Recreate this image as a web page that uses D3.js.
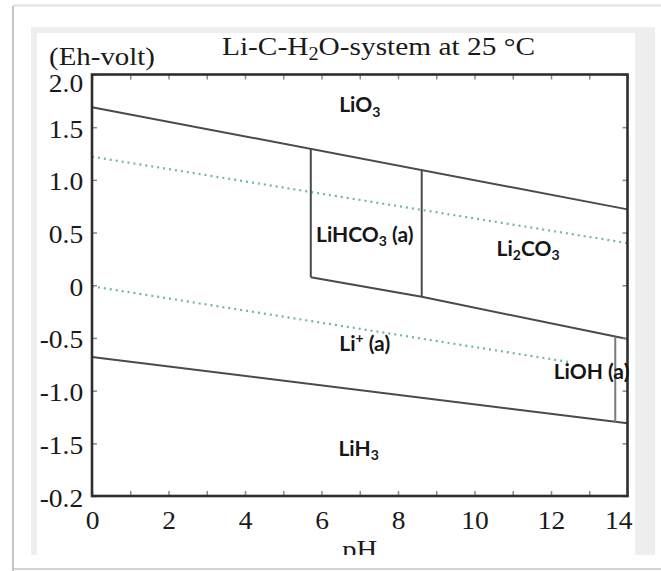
<!DOCTYPE html>
<html>
<head>
<meta charset="utf-8">
<script src="https://cdn.jsdelivr.net/npm/d3@7"></script>
<style>
  html, body { margin: 0; padding: 0; background: #fff; }
  svg { display: block; }
</style>
</head>
<body>
<svg id="chart" width="661" height="571"></svg>
<script>
// ---- Eh–pH data (pH, Eh in volts) ----
const phTicks = [0, 1, 2, 3, 4, 5, 6, 7, 8, 9, 10, 11, 12, 13, 14];
const phLabelTicks = [0, 2, 4, 6, 8, 10, 12, 14];
const ehTicks = [2, 1.5, 1, 0.5, 0, -0.5, -1, -1.5, -2];
const ehTickLabels = ["2.0", "1.5", "1.0", "0.5", "0", "-0.5", "-1.0", "-1.5", "-0.2"];

// stability-field boundaries
const oxideBoundary = [[0, 1.69], [14, 0.72]];
const carbonateFloor = [[5.72, 0.076], [8.62, -0.11], [14, -0.51]];
const hydrideBoundary = [[0, -0.68], [14, -1.31]];
const bicarbonateLeft = [[5.72, 1.294], [5.72, 0.076]];
const bicarbonateRight = [[8.62, 1.09], [8.62, -0.11]];
const hydroxideWall = [[13.68, -0.49], [13.68, -1.30]];

// water stability limits (dotted)
const oxygenLine = [[0, 1.22], [14, 0.40]];
const hydrogenLine = [[0, -0.01], [12.5, -0.73]];

// phase names as runs of [text, kind]
const phaseNames = [
  [["LiO"], ["3", "sub"]],
  [["LiHCO"], ["3", "sub"], [" (a)"]],
  [["Li"], ["2", "sub"], ["CO"], ["3", "sub"]],
  [["Li"], ["+", "sup"], [" (a)"]],
  [["LiOH (a)"]],
  [["LiH"], ["3", "sub"]]
];
const phaseAnchors = [[7.0, 1.64], [7.13, 0.41], [11.40, 0.275], [7.13, -0.62], [13.06, -0.885], [6.97, -1.62]];

const titleRuns = [["Li-C-H"], ["2", "sub"], ["O-system at 25 °C"]];
const yTitle = "(Eh-volt)";
const xTitle = "pH";

// ---- layout ----
const svg = d3.select("#chart");
const x = d3.scaleLinear().domain([0, 14]).range([92, 627.5]);
const y = d3.scaleLinear().domain([-2, 2]).range([496, 74.5]);
const serif = "'Liberation Serif', 'Times New Roman', serif";
const stretch = 1.1;

// outer card with a soft left shadow
const defs = svg.append("defs");
defs.append("filter").attr("id", "soft")
  .append("feGaussianBlur").attr("stdDeviation", 1.4);
defs.append("clipPath").attr("id", "panelClip")
  .append("rect").attr("x", 37).attr("y", 33).attr("width", 620).attr("height", 522);

svg.append("rect").attr("width", 661).attr("height", 571).attr("fill", "#fff");
svg.append("line").attr("x1", 11).attr("x2", 11).attr("y1", 7).attr("y2", 571)
  .attr("stroke", "#c8c8c8").attr("stroke-width", 3).attr("filter", "url(#soft)");
svg.append("line").attr("x1", 13).attr("x2", 661).attr("y1", 5.5).attr("y2", 5.5)
  .attr("stroke", "#e2e2e2").attr("stroke-width", 2);
svg.append("line").attr("x1", 13).attr("x2", 661).attr("y1", 569).attr("y2", 569)
  .attr("stroke", "#d4d4d4").attr("stroke-width", 2);
svg.append("line").attr("x1", 13).attr("x2", 13).attr("y1", 6).attr("y2", 571)
  .attr("stroke", "#b4b4b4").attr("stroke-width", 1.5);

// grey panel framing the figure
svg.append("rect").attr("x", 31).attr("y", 27).attr("width", 624).attr("height", 528).attr("fill", "#eeeeee");
svg.append("rect").attr("x", 37).attr("y", 33).attr("width", 598).attr("height", 522).attr("fill", "#fff");

const panel = svg.append("g").attr("clip-path", "url(#panelClip)");

// ---- lines ----
const line = d3.line().x(d => x(d[0])).y(d => y(d[1]));

panel.selectAll("path.water")
  .data([oxygenLine, hydrogenLine])
  .join("path")
  .attr("class", "water")
  .attr("d", line)
  .attr("fill", "none")
  .attr("stroke", "#6fb4b2")
  .attr("stroke-width", 2.2)
  .attr("stroke-dasharray", "2,4");

panel.selectAll("path.boundary")
  .data([oxideBoundary, carbonateFloor, hydrideBoundary, bicarbonateLeft, bicarbonateRight])
  .join("path")
  .attr("class", "boundary")
  .attr("d", line)
  .attr("fill", "none")
  .attr("stroke", "#4a4a4a")
  .attr("stroke-width", 2);

panel.append("path").datum(hydroxideWall)
  .attr("d", line).attr("fill", "none")
  .attr("stroke", "#7a7a7a").attr("stroke-width", 2);

// ---- axes (ticks point inward) ----
function styleAxis(g) {
  g.select(".domain").remove();
  g.selectAll(".tick line").attr("stroke", "#8a8a8a").attr("stroke-width", 1.5);
  g.selectAll(".tick text")
    .attr("fill", "#1a1a1a")
    .attr("font-family", serif)
    .attr("font-size", 25);
}

panel.append("g").attr("transform", `translate(0,${y(-2)})`)
  .call(d3.axisBottom(x).tickValues(phTicks).tickSize(-5).tickPadding(15)
    .tickFormat(d => phLabelTicks.includes(d) ? String(d) : ""))
  .call(styleAxis)
  .call(g => g.selectAll(".tick text")
    .attr("text-anchor", d => d === 14 ? "end" : "middle")
    .attr("x", d => d === 14 ? 4 : 0)
    .attr("transform", `scale(${stretch},1)`));

panel.append("g").attr("transform", `translate(0,${y(2)})`)
  .call(d3.axisTop(x).tickValues(phTicks).tickSize(-5).tickFormat(""))
  .call(styleAxis);

panel.append("g").attr("transform", `translate(${x(0)},0)`)
  .call(d3.axisLeft(y).tickValues(ehTicks).tickSize(-5).tickPadding(8)
    .tickFormat((d, i) => ehTickLabels[i]))
  .call(styleAxis)
  .call(g => g.selectAll(".tick text")
    .attr("transform", (d, i) => `translate(0,${i === 0 ? 9 : 2}) scale(${stretch},1)`));

panel.append("g").attr("transform", `translate(${x(14)},0)`)
  .call(d3.axisRight(y).tickValues(ehTicks).tickSize(-5).tickFormat(""))
  .call(styleAxis);

// plot frame
panel.append("rect")
  .attr("x", x(0)).attr("y", y(2))
  .attr("width", x(14) - x(0)).attr("height", y(-2) - y(2))
  .attr("fill", "none").attr("stroke", "#2e2e2e").attr("stroke-width", 2.6);

// ---- text ----
// each run gets its own tspan; dy carries the baseline back and forth
function addRuns(textSel, runs, size) {
  const small = Math.round(size * 0.68);
  const offsets = { sub: size * 0.2, sup: -size * 0.38 };
  let current = 0;
  runs.forEach(([s, kind]) => {
    const target = offsets[kind] || 0;
    const t = textSel.append("tspan").text(s);
    if (target !== current) t.attr("dy", target - current);
    if (kind) t.attr("font-size", small);
    current = target;
  });
}

// phase field names
panel.selectAll("text.phase")
  .data(phaseNames)
  .join("text")
  .attr("class", "phase")
  .attr("x", (d, i) => x(phaseAnchors[i][0]))
  .attr("y", (d, i) => y(phaseAnchors[i][1]))
  .attr("text-anchor", "middle")
  .attr("font-family", "Lato, 'Open Sans', sans-serif")
  .attr("font-weight", 700)
  .attr("font-size", 21)
  .attr("fill", "#161616")
  .each(function (d) { addRuns(d3.select(this), d, 21); });

// chart title
const title = panel.append("text")
  .attr("x", 222).attr("y", 55)
  .attr("font-family", serif).attr("font-size", 26).attr("fill", "#1a1a1a")
  .attr("textLength", 313).attr("lengthAdjust", "spacingAndGlyphs");
addRuns(title, titleRuns, 26);

// axis titles
panel.append("text")
  .attr("x", 49).attr("y", 65)
  .attr("font-family", serif).attr("font-size", 26).attr("fill", "#1a1a1a")
  .attr("textLength", 106).attr("lengthAdjust", "spacingAndGlyphs")
  .text(yTitle);

panel.append("text")
  .attr("x", x(7)).attr("y", 558)
  .attr("text-anchor", "middle")
  .attr("font-family", serif).attr("font-size", 26).attr("fill", "#1a1a1a")
  .attr("transform", `translate(${x(7)},0) scale(${stretch},1) translate(${-x(7)},0)`)
  .text(xTitle);
</script>
</body>
</html>
